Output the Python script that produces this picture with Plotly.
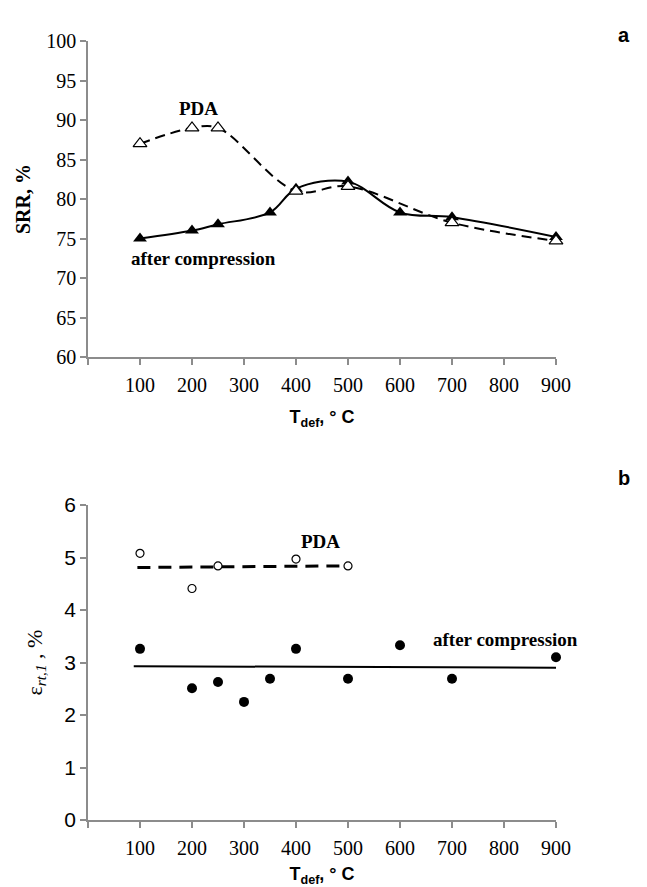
import plotly.graph_objects as go

# ---- Panel a: SRR vs deformation temperature ----
t_pda_a = [100, 200, 250, 400, 500, 700, 900]
srr_pda = [87.0, 89.0, 89.0, 81.0, 81.6, 77.0, 74.7]
t_comp_a = [100, 200, 250, 350, 400, 500, 600, 700, 900]
srr_comp = [75.0, 76.0, 76.8, 78.3, 81.3, 82.2, 78.3, 77.7, 75.2]

# ---- Panel b: eps_rt,1 vs deformation temperature ----
t_pda_b = [100, 200, 250, 400, 500]
eps_pda = [5.08, 4.41, 4.84, 4.97, 4.84]
t_comp_b = [100, 200, 250, 300, 350, 400, 500, 600, 700, 900]
eps_comp = [3.26, 2.51, 2.63, 2.25, 2.69, 3.26, 2.69, 3.33, 2.69, 3.10]
# trend lines (end points)
trend_pda_x = [95, 495]
trend_pda_y = [4.81, 4.84]
trend_comp_x = [88, 910]
trend_comp_y = [2.93, 2.90]

x_ticks = [0, 100, 200, 300, 400, 500, 600, 700, 800, 900]
x_ticktext = [""] + [str(v) for v in x_ticks[1:]]

H = 887
W = 647
L, R = 88, 556

def dom(top_px, bot_px):
    return [1 - bot_px / H, 1 - top_px / H]

fig = go.Figure()

# Panel a traces
fig.add_trace(go.Scatter(
    x=t_comp_a, y=srr_comp, mode="lines+markers", cliponaxis=False,
    line=dict(color="black", width=2, shape="spline", smoothing=1),
    marker=dict(symbol="triangle-up", size=12, color="black"),
    xaxis="x", yaxis="y", showlegend=False))
fig.add_trace(go.Scatter(
    x=t_pda_a, y=srr_pda, mode="lines+markers", cliponaxis=False,
    line=dict(color="black", width=2, dash="10px,6px", shape="spline", smoothing=1),
    marker=dict(symbol="triangle-up", size=12, color="white",
                line=dict(color="black", width=1.2)),
    xaxis="x", yaxis="y", showlegend=False))

# Panel b traces
fig.add_trace(go.Scatter(
    x=trend_comp_x, y=trend_comp_y, mode="lines", cliponaxis=False,
    line=dict(color="black", width=2),
    xaxis="x2", yaxis="y2", showlegend=False))
fig.add_trace(go.Scatter(
    x=trend_pda_x, y=trend_pda_y, mode="lines", cliponaxis=False,
    line=dict(color="black", width=3, dash="13px,8px"),
    xaxis="x2", yaxis="y2", showlegend=False))
fig.add_trace(go.Scatter(
    x=t_comp_b, y=eps_comp, mode="markers", cliponaxis=False,
    marker=dict(symbol="circle", size=10, color="black"),
    xaxis="x2", yaxis="y2", showlegend=False))
fig.add_trace(go.Scatter(
    x=t_pda_b, y=eps_pda, mode="markers", cliponaxis=False,
    marker=dict(symbol="circle", size=8, color="white",
                line=dict(color="black", width=1.2)),
    xaxis="x2", yaxis="y2", showlegend=False))

axis_common = dict(showline=True, linecolor="#8c8c8c", linewidth=1.5,
                   ticks="outside", tickcolor="#8c8c8c", ticklen=6, tickwidth=1.5,
                   showgrid=False, zeroline=False, automargin=False)

xtitle = dict(text="<b>T<sub>def</sub>, ° C</b>",
              font=dict(family="Liberation Sans, Arial", size=18, color="black"),
              standoff=16)

fig.update_layout(
    width=W, height=H,
    margin=dict(l=L, r=W - R, t=0, b=0),
    paper_bgcolor="white", plot_bgcolor="white",
    xaxis=dict(domain=[0, 1], range=[0, 900], tickvals=x_ticks, ticktext=x_ticktext,
               tickfont=dict(family="Liberation Serif, Times New Roman", size=20, color="black"),
               ticklabelstandoff=3, title=xtitle, anchor="y", **axis_common),
    yaxis=dict(domain=dom(41, 357), range=[60, 100], tickvals=list(range(60, 101, 5)),
               tickfont=dict(family="Liberation Serif, Times New Roman", size=20, color="black"),
               title=dict(text="<b>SRR, %</b>",
                          font=dict(family="Liberation Serif, Times New Roman", size=20, color="black"),
                          standoff=10),
               anchor="x", **axis_common),
    xaxis2=dict(domain=[0, 1], range=[0, 900], tickvals=x_ticks, ticktext=x_ticktext,
                tickfont=dict(family="Liberation Serif, Times New Roman", size=20, color="black"),
                ticklabelstandoff=3, title=xtitle, anchor="y2", **axis_common),
    yaxis2=dict(domain=dom(505, 820), range=[0, 6], tickvals=list(range(0, 7)),
                tickfont=dict(family="Liberation Sans, Arial", size=21, color="black"),
                title=dict(text="ε<sub><i>rt,1</i></sub> , %",
                           font=dict(family="Liberation Serif, Times New Roman", size=22, color="black"),
                           standoff=16),
                anchor="x2", **axis_common),
)

serif_bold = dict(family="Liberation Serif, Times New Roman", size=19, color="black")
fig.add_annotation(x=213, y=91.4, xref="x", yref="y", text="<b>PDA</b>",
                   showarrow=False, font=serif_bold)
fig.add_annotation(x=223, y=72.5, xref="x", yref="y", text="<b>after compression</b>",
                   showarrow=False, font=serif_bold)
fig.add_annotation(x=448, y=5.3, xref="x2", yref="y2", text="<b>PDA</b>",
                   showarrow=False, font=serif_bold)
fig.add_annotation(x=803, y=3.43, xref="x2", yref="y2", text="<b>after compression</b>",
                   showarrow=False, font=serif_bold)

label_font = dict(family="Liberation Sans, Arial", size=20, color="black")
fig.add_annotation(x=(632 - L) / (R - L), y=1 - 22 / H, xref="paper", yref="paper",
                   text="<b>a</b>", showarrow=False, font=label_font)
fig.add_annotation(x=(632 - L) / (R - L), y=1 - 478 / H, xref="paper", yref="paper",
                   text="<b>b</b>", showarrow=False, font=label_font)

fig.write_html("out.html", config={"displayModeBar": False},
               post_script="document.body.style.margin='0';")
